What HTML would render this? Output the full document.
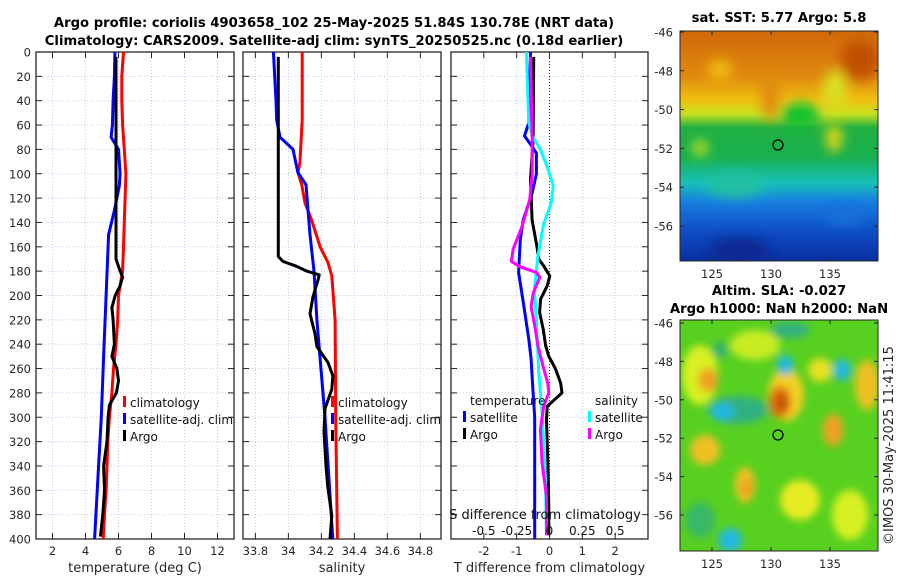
<!DOCTYPE html>
<html><head><meta charset="utf-8"><style>
html,body{margin:0;padding:0;background:#fff;width:900px;height:580px;overflow:hidden}
svg{display:block;font-family:"DejaVu Sans","Liberation Sans",sans-serif}
.tk{font-size:11.5px;fill:#262626}
.ttl{font-size:13.2px;font-weight:bold;fill:#000}
.lg{font-size:12px;fill:#111}
</style></head><body>
<svg id="chart" width="900" height="580" viewBox="0 0 900 580">
<defs>
<filter id="bl" x="-50%" y="-50%" width="200%" height="200%"><feGaussianBlur stdDeviation="6"/></filter>
<filter id="bl2" x="-50%" y="-50%" width="200%" height="200%"><feGaussianBlur stdDeviation="4"/></filter>
<linearGradient id="sstg" x1="0" y1="0" x2="0" y2="1">
<stop offset="0" stop-color="#d06808"/><stop offset="0.2" stop-color="#e08a10"/>
<stop offset="0.3" stop-color="#f0c010"/><stop offset="0.36" stop-color="#c8e020"/>
<stop offset="0.42" stop-color="#20b040"/><stop offset="0.55" stop-color="#18b050"/>
<stop offset="0.66" stop-color="#18c0b8"/><stop offset="0.74" stop-color="#1880e0"/>
<stop offset="0.86" stop-color="#1050c8"/><stop offset="1" stop-color="#0830a0"/>
</linearGradient>
<clipPath id="c1"><rect x="680" y="31" width="198" height="230"/></clipPath>
<clipPath id="c2"><rect x="680" y="320" width="198" height="231"/></clipPath>
</defs>
<text class="ttl" x="334" y="27" text-anchor="middle">Argo profile: coriolis 4903658_102 25-May-2025 51.84S 130.78E (NRT data)</text>
<text class="ttl" x="334" y="45" text-anchor="middle">Climatology: CARS2009. Satellite-adj clim: synTS_20250525.nc (0.18d earlier)</text>

<g id="p1"></g>
<g id="p2"></g>
<g id="p3"></g>

<g>
<text class="ttl" x="779" y="22" text-anchor="middle">sat. SST: 5.77 Argo: 5.8</text>
<g clip-path="url(#c1)">
<rect x="680" y="31" width="198" height="230" fill="url(#sstg)"/>
<g filter="url(#bl)">
<ellipse cx="770" cy="95" rx="9" ry="25" fill="#e08a10"/>
<ellipse cx="720" cy="70" rx="12" ry="10" fill="#f0c010"/>
<ellipse cx="835" cy="90" rx="12" ry="20" fill="#d8e020"/>
<ellipse cx="800" cy="115" rx="20" ry="12" fill="#10c030"/>
<ellipse cx="834" cy="138" rx="8" ry="14" fill="#e8d818"/>
<ellipse cx="700" cy="148" rx="8" ry="8" fill="#c0e020"/>
<ellipse cx="735" cy="185" rx="30" ry="12" fill="#20c0a0"/>
<ellipse cx="740" cy="250" rx="30" ry="12" fill="#082890"/>
<ellipse cx="860" cy="60" rx="20" ry="20" fill="#c05000"/>
<ellipse cx="845" cy="215" rx="20" ry="10" fill="#1870d8"/>
</g>
</g>
<rect x="680" y="31" width="198" height="230" fill="none" stroke="#262626" stroke-width="1"/>
<circle cx="778" cy="145" r="5" fill="none" stroke="#000" stroke-width="1.3"/>
</g>

<g>
<text class="ttl" x="779" y="295" text-anchor="middle">Altim. SLA: -0.027</text>
<text class="ttl" x="779" y="313" text-anchor="middle">Argo h1000: NaN h2000: NaN</text>
<g clip-path="url(#c2)">
<rect x="680" y="320" width="198" height="231" fill="#58d020"/>
<g filter="url(#bl2)">
<ellipse cx="700" cy="375" rx="18" ry="30" fill="#d8f020"/>
<ellipse cx="708" cy="380" rx="10" ry="12" fill="#f0a020"/>
<ellipse cx="755" cy="345" rx="25" ry="15" fill="#c8ec20"/>
<ellipse cx="720" cy="350" rx="8" ry="8" fill="#30b070"/>
<ellipse cx="738" cy="410" rx="30" ry="14" fill="#30b080"/>
<ellipse cx="722" cy="412" rx="12" ry="9" fill="#20b8e0"/>
<ellipse cx="786" cy="395" rx="18" ry="26" fill="#f0d020"/>
<ellipse cx="780" cy="402" rx="11" ry="16" fill="#e07010"/>
<ellipse cx="782" cy="402" rx="5" ry="8" fill="#c04808"/>
<ellipse cx="785" cy="365" rx="8" ry="10" fill="#20b8e0"/>
<ellipse cx="820" cy="370" rx="12" ry="12" fill="#e8e020"/>
<ellipse cx="842" cy="370" rx="9" ry="11" fill="#20b8e0"/>
<ellipse cx="867" cy="385" rx="12" ry="25" fill="#f0c020"/>
<ellipse cx="833" cy="430" rx="10" ry="16" fill="#f0a020"/>
<ellipse cx="705" cy="450" rx="15" ry="15" fill="#f0c020"/>
<ellipse cx="745" cy="485" rx="10" ry="18" fill="#f0c020"/>
<ellipse cx="747" cy="488" rx="4" ry="8" fill="#f09020"/>
<ellipse cx="800" cy="500" rx="20" ry="20" fill="#e8ec20"/>
<ellipse cx="730" cy="540" rx="12" ry="12" fill="#20b8e0"/>
<ellipse cx="790" cy="330" rx="20" ry="8" fill="#30b080"/>
<ellipse cx="850" cy="515" rx="18" ry="25" fill="#d8f020"/>
<ellipse cx="700" cy="520" rx="15" ry="18" fill="#38b868"/>
</g>
</g>
<rect x="680" y="320" width="198" height="231" fill="none" stroke="#262626" stroke-width="1"/>
<circle cx="778" cy="435" r="5" fill="none" stroke="#000" stroke-width="1.3"/>
</g>
<text class="tk" transform="translate(893,545) rotate(-90)" style="font-size:13px">©IMOS 30-May-2025 11:41:15</text>
</svg>
<script>
// ---- data ----
var depthTicks = [0,20,40,60,80,100,120,140,160,180,200,220,240,260,280,300,320,340,360,380,400];
var tempTicks = [2,4,6,8,10,12];
var salTicks = [33.8,34,34.2,34.4,34.6,34.8];
var salTickLabels = ["33.8","34","34.2","34.4","34.6","34.8"];
var tdiffTicks = [-2,-1,0,1,2];
var sdiffTicks = [-0.5,-0.25,0,0.25,0.5];
var sdiffTickLabels = ["-0.5","-0.25","0","0.25","0.5"];

var climTDepth = [0,20,40,60,80,100,120,140,160,180,200,220,240,260,280,300,320,340,360,380,400];
var climT = [6.3,6.2,6.2,6.25,6.35,6.45,6.4,6.35,6.3,6.25,6.0,5.95,5.85,5.7,5.6,5.45,5.35,5.3,5.25,5.15,5.07];
var satTDepth = [0,20,40,60,70,80,100,110,130,150,200,250,300,350,400];
var satT = [5.78,5.75,5.67,5.63,5.55,6.0,6.1,6.05,5.75,5.4,5.25,5.1,4.96,4.75,4.55];
var argoTDepth = [4,170,178,185,192,200,210,220,240,250,260,270,280,290,300,320,340,360,380,398];
var argoT = [5.85,5.85,6.05,6.25,6.1,5.8,5.6,5.67,5.75,5.6,5.9,6.0,5.87,5.45,5.37,5.3,5.1,5.15,5.05,4.9];

var climSDepth = [0,56,91,99,109,124,138,160,173,184,220,300,400];
var climS = [34.084,34.084,34.070,34.058,34.081,34.101,34.141,34.192,34.240,34.263,34.283,34.287,34.297];
var satSDepth = [0,40,56,70,80,99,109,130,150,180,220,300,400];
var satS = [33.909,33.925,33.929,33.949,34.028,34.058,34.107,34.119,34.131,34.155,34.173,34.222,34.269];
var argoSDepth = [4,168,172,176,180,183,187,201,215,231,242,255,266,277,293,312,340,356,381,400];
var argoS = [33.939,33.939,33.967,34.050,34.111,34.187,34.180,34.149,34.131,34.161,34.173,34.240,34.270,34.263,34.222,34.216,34.228,34.238,34.263,34.252];

var satTdDepth = [0,58,69,75,83,100,116,138,154,181,209,236,252,280,300,400];
var satTd = [-0.58,-0.63,-0.76,-0.6,-0.4,-0.4,-0.53,-0.8,-0.89,-0.94,-0.78,-0.63,-0.56,-0.5,-0.45,-0.45];
var argoTdDepth = [4,72,105,138,160,170,176,184,192,203,214,228,241,250,260,272,280,291,302,338,373,397];
var argoTd = [-0.48,-0.5,-0.58,-0.53,-0.38,-0.33,-0.17,0.01,-0.07,-0.27,-0.3,-0.19,-0.12,-0.02,0.18,0.34,0.38,-0.07,-0.09,-0.05,-0.02,-0.02];
var satSdDepth = [0,58,69,80,94,110,124,141,168,195,222,263,280,296,351,397];
var satSd = [-0.176,-0.158,-0.132,-0.069,-0.018,0.028,0.013,-0.044,-0.089,-0.115,-0.099,-0.082,-0.069,-0.056,-0.031,-0.023];
var argoSdDepth = [4,72,100,121,143,162,172,176,181,185,198,209,228,241,260,272,280,291,310,338,365,397];
var argoSd = [-0.145,-0.132,-0.132,-0.15,-0.208,-0.277,-0.29,-0.234,-0.1,-0.074,-0.124,-0.14,-0.107,-0.089,-0.044,-0.013,-0.005,-0.044,-0.069,-0.056,-0.023,-0.023];

var latTicks = [-46,-48,-50,-52,-54,-56];
var lonTicks = [125,130,135];

// ---- layout ----
var NS = "http://www.w3.org/2000/svg";
var svg = document.getElementById('chart');
var Y0 = 52, Y1 = 539;
function yD(d){ return Y0 + (d/400)*(Y1-Y0); }
function lin(d0,d1,r0,r1){ return function(v){ return r0 + (v-d0)/(d1-d0)*(r1-r0); }; }
var xT = lin(1,13,36,234);
var xS = lin(33.725,34.925,243,441);
var xD = lin(-3,3,451,648);
var xSd = function(v){ return xD(v*4); };
function mk(tag, attrs, parent){
  var e = document.createElementNS(NS, tag);
  for (var k in attrs) e.setAttribute(k, attrs[k]);
  (parent||svg).appendChild(e); return e;
}
function frame(g, x0, x1, ticks, fx, labels, ylabels, xtitle, nameBase){
  for (var i=0;i<depthTicks.length;i++){
    var y = yD(depthTicks[i]);
    var gl = mk('line',{x1:x0,x2:x1,y1:y,y2:y,stroke:'#c4c8e8','stroke-width':1,'stroke-dasharray':'1,2'},g);
    
    
    mk('line',{x1:x0,x2:x0+6,y1:y,y2:y,stroke:'#262626'},g);
    mk('line',{x1:x1-6,x2:x1,y1:y,y2:y,stroke:'#262626'},g);
    if (ylabels){
      var t = mk('text',{x:x0-5,y:y+4.5,'text-anchor':'end','class':'tk'},g);
      t.textContent = depthTicks[i];
      
      
    }
  }
  for (var j=0;j<ticks.length;j++){
    var x = fx(ticks[j]);
    var vl = mk('line',{x1:x,x2:x,y1:Y0,y2:Y1,stroke:'#c4c8e8','stroke-width':1,'stroke-dasharray':'1,2'},g);
    
    
    mk('line',{x1:x,x2:x,y1:Y1,y2:Y1-6,stroke:'#262626'},g);
    mk('line',{x1:x,x2:x,y1:Y0,y2:Y0+6,stroke:'#262626'},g);
    var tl = mk('text',{x:x,y:555,'text-anchor':'middle','class':'tk'},g);
    tl.textContent = labels[j];
    
    
  }
  var b = mk('rect',{x:x0,y:Y0,width:x1-x0,height:Y1-Y0,fill:'none',stroke:'#262626','stroke-width':1.3},g);
  
  
  var xt = mk('text',{x:(x0+x1)/2,y:572,'text-anchor':'middle','class':'tk','style':'font-size:13px'},g);
  xt.textContent = xtitle;
  
  
}
function series(g, depths, vals, fx, color, name, w){
  var pts = [];
  for (var i=0;i<vals.length;i++) pts.push(fx(vals[i]).toFixed(1)+','+yD(depths[i]).toFixed(1));
  var p = mk('polyline',{points:pts.join(' '),fill:'none',stroke:color,'stroke-width':w||3,'stroke-linejoin':'round'},g);
  
  
}
function legend(g, x, y, color, label, name){
  mk('rect',{x:x,y:y-11,width:3,height:11,fill:color},g);
  var t = mk('text',{x:x+7,y:y,'class':'lg'},g);
  t.textContent = label;
  
  
}
var p1 = document.getElementById('p1'), p2 = document.getElementById('p2'), p3 = document.getElementById('p3');
frame(p1,36,234,tempTicks,xT,tempTicks,true,'temperature (deg C)','temperature');
frame(p2,243,441,salTicks,xS,salTickLabels,false,'salinity','salinity');
frame(p3,451,648,tdiffTicks,xD,tdiffTicks,false,'T difference from climatology','difference');

series(p1, climTDepth, climT, xT, '#ff0000', 'temperature-climatology-line');
series(p1, satTDepth, satT, xT, '#0000ff', 'temperature-satellite-line');
series(p1, argoTDepth, argoT, xT, '#000000', 'temperature-argo-line');
series(p2, climSDepth, climS, xS, '#ff0000', 'salinity-climatology-line');
series(p2, satSDepth, satS, xS, '#0000ff', 'salinity-satellite-line');
series(p2, argoSDepth, argoS, xS, '#000000', 'salinity-argo-line');

var zl = mk('line',{x1:xD(0),x2:xD(0),y1:Y0,y2:Y1,stroke:'#333','stroke-dasharray':'1,2'},p3);


series(p3, satTdDepth, satTd, xD, '#0000ff', 'tdiff-satellite-line');
series(p3, argoTdDepth, argoTd, xD, '#000000', 'tdiff-argo-line');
series(p3, satSdDepth, satSd, xSd, '#00ffff', 'sdiff-satellite-line');
series(p3, argoSdDepth, argoSd, xSd, '#ff00ff', 'sdiff-argo-line');

legend(p1,123,407,'#ff0000','climatology','legend-climatology');
legend(p1,123,424,'#0000ff','satellite-adj. clim','legend-satellite');
legend(p1,123,441,'#000000','Argo','legend-argo');
legend(p2,331,407,'#ff0000','climatology','legend-climatology-s');
legend(p2,331,424,'#0000ff','satellite-adj. clim','legend-satellite-s');
legend(p2,331,441,'#000000','Argo','legend-argo-s');

var tt = mk('text',{x:470,y:405,'class':'lg'},p3); tt.textContent='temperature';


var st = mk('text',{x:595,y:405,'class':'lg'},p3); st.textContent='salinity';


legend(p3,463,422,'#0000ff','satellite','legend-t-satellite');
legend(p3,463,439,'#000000','Argo','legend-t-argo');
legend(p3,588,422,'#00ffff','satellite','legend-s-satellite');
legend(p3,588,439,'#ff00ff','Argo','legend-s-argo');

var sdt = mk('text',{x:545,y:519,'text-anchor':'middle','class':'lg','style':'font-size:13px'},p3);
sdt.textContent='S difference from climatology';


for (var i=0;i<sdiffTicks.length;i++){
  var s = mk('text',{x:xSd(sdiffTicks[i]),y:535,'text-anchor':'middle','class':'lg'},p3);
  s.textContent = sdiffTickLabels[i];
  
  
}

var latTop = lin(-46,-56,32,226), latBot = lin(-46,-56,323,515), lon = lin(125,135,712,830);
for (var k=0;k<latTicks.length;k++){
  [[latTop,680,878],[latBot,680,878]].forEach(function(m, mi){
    var y = m[0](latTicks[k]);
    mk('line',{x1:m[1],x2:m[1]+4,y1:y,y2:y,stroke:'#262626'});
    mk('line',{x1:m[2]-4,x2:m[2],y1:y,y2:y,stroke:'#262626'});
    var t = mk('text',{x:673,y:y+4.5,'text-anchor':'end','class':'tk'});
    t.textContent = latTicks[k];
    
    
  });
}
for (var m=0;m<lonTicks.length;m++){
  var x = lon(lonTicks[m]);
  [[31,261,278],[320,551,568]].forEach(function(b, bi){
    mk('line',{x1:x,x2:x,y1:b[1],y2:b[1]-4,stroke:'#262626'});
    mk('line',{x1:x,x2:x,y1:b[0],y2:b[0]+4,stroke:'#262626'});
    var t = mk('text',{x:x,y:b[2],'text-anchor':'middle','class':'tk'});
    t.textContent = lonTicks[m];
    
    
  });
}
</script>
</body></html>
